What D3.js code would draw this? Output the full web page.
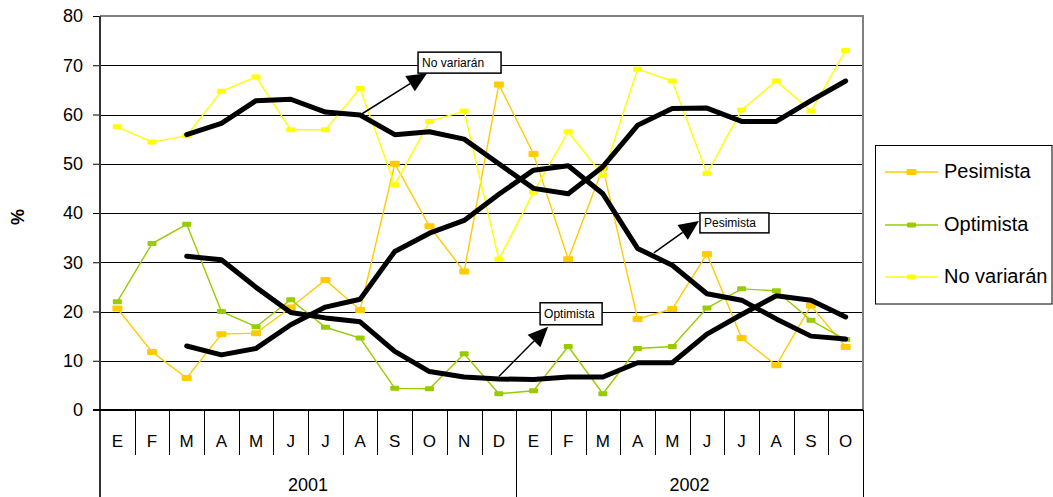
<!DOCTYPE html>
<html>
<head>
<meta charset="utf-8">
<script src="https://cdn.jsdelivr.net/npm/d3@7"></script>
<style>
  html, body { margin: 0; padding: 0; background: #fff; }
  svg { display: block; font-family: "Liberation Sans", Arial, sans-serif; }
</style>
</head>
<body>
<svg id="chart" width="1053" height="497"></svg>
<script>
// ---- data ----
const months = ["E","F","M","A","M","J","J","A","S","O","N","D","E","F","M","A","M","J","J","A","S","O"];
const yearLabels = ["2001", "2002"];
const yearCounts = [12, 10];
const yTicks = [0, 10, 20, 30, 40, 50, 60, 70, 80];
const seriesNames = ["Pesimista", "Optimista", "No variarán"];

const pesimista  = [20.6, 11.8, 6.5, 15.4, 15.6, 20.8, 26.4, 20.3, 50.0, 37.3, 28.1, 66.1, 52.0, 30.6, 49.2, 18.5, 20.5, 31.7, 14.6, 9.1, 21.2, 12.8];
const optimista  = [22.0, 33.8, 37.7, 20.0, 16.9, 22.4, 16.8, 14.6, 4.4, 4.3, 11.4, 3.3, 3.9, 12.9, 3.3, 12.5, 12.9, 20.7, 24.6, 24.2, 18.2, 14.3];
const noVariaran = [57.5, 54.4, 55.7, 64.7, 67.6, 56.9, 56.9, 65.3, 45.7, 58.6, 60.7, 30.6, 44.2, 56.5, 47.6, 69.2, 66.8, 48.0, 60.9, 66.8, 60.7, 73.0];

const pesimistaTrend  = [null, null, 13.0, 11.2, 12.5, 17.3, 20.9, 22.5, 32.2, 35.9, 38.5, 43.8, 48.7, 49.6, 43.9, 32.8, 29.4, 23.6, 22.3, 18.5, 15.0, 14.4];
const optimistaTrend  = [null, null, 31.2, 30.5, 24.9, 19.8, 18.7, 17.9, 11.9, 7.8, 6.7, 6.3, 6.2, 6.7, 6.7, 9.6, 9.6, 15.4, 19.4, 23.2, 22.3, 18.9];
const noVariaranTrend = [null, null, 55.9, 58.2, 62.8, 63.1, 60.5, 59.9, 55.9, 56.5, 55.0, 50.0, 45.0, 43.9, 49.4, 57.8, 61.2, 61.3, 58.6, 58.6, 62.8, 66.8];

// callouts: text, arrow start (category index, value), arrow tip (category index, value)
const calloutTexts = ["No variarán", "Pesimista", "Optimista"];
const calloutFrom  = [[7, 59.9], [15.47, 31.9], [11, 6.8]];
const calloutTo    = [[8.93, 68.4], [16.77, 38.4], [12.42, 16.9]];

// ---- styles / layout ----
const colors = ["#FFCC00", "#99CC00", "#FFFF00"];
const markerSize = [[10, 6], [9, 5], [9, 5]];
const boxOffsets = [[-9, -21, 83, 21], [1, -8, 69, 20], [-8, -24, 62, 22]];
const L = 100, R = 863, T = 16, B = 410;

const svg = d3.select("#chart");
const n = months.length;
const xBand = d3.scaleLinear().domain([0, n]).range([L, R]);
const xc = i => xBand(i + 0.5);
const y = d3.scaleLinear().domain([0, 80]).range([B, T]);

// gridlines
svg.append("g").selectAll("line").data(yTicks.filter(t => t > 0 && t < 80)).join("line")
  .attr("x1", L).attr("x2", R)
  .attr("y1", d => Math.round(y(d)) + 0.5).attr("y2", d => Math.round(y(d)) + 0.5)
  .attr("stroke", "#000").attr("stroke-width", 1);

// plot border top/right (gray)
svg.append("path")
  .attr("d", `M${L},${Math.round(y(80))}H${R}V${B}`)
  .attr("fill", "none").attr("stroke", "#808080").attr("stroke-width", 2);

// y axis
const yAxis = d3.axisLeft(y).tickValues(yTicks).tickSize(7).tickPadding(10);
const gy = svg.append("g").attr("transform", `translate(${L},0)`).call(yAxis);
gy.select(".domain").remove();
gy.selectAll(".tick line").attr("stroke", "#000").attr("stroke-width", 1);
gy.selectAll(".tick text").attr("font-size", 18).attr("fill", "#000")
  .attr("font-family", "Liberation Sans, Arial, sans-serif");
svg.append("line").attr("x1", L).attr("x2", L).attr("y1", T).attr("y2", 497)
  .attr("stroke", "#333").attr("stroke-width", 2);

// x axis baseline
svg.append("line").attr("x1", L - 7).attr("x2", R).attr("y1", B).attr("y2", B)
  .attr("stroke", "#000").attr("stroke-width", 2);

// category separators
const yearBounds = [0];
yearCounts.forEach(c => yearBounds.push(yearBounds[yearBounds.length - 1] + c));
svg.append("g").selectAll("line").data(d3.range(1, n + 1)).join("line")
  .attr("x1", d => Math.round(xBand(d)) + 0.5).attr("x2", d => Math.round(xBand(d)) + 0.5)
  .attr("y1", B).attr("y2", d => yearBounds.includes(d) ? 497 : 455)
  .attr("stroke", "#000").attr("stroke-width", 1);

// month labels
svg.append("g").selectAll("text").data(months).join("text")
  .attr("x", (d, i) => xc(i)).attr("y", 443)
  .attr("text-anchor", "middle").attr("dominant-baseline", "middle")
  .attr("font-size", 17).attr("fill", "#000").text(d => d);

// year labels
svg.append("g").selectAll("text").data(yearLabels).join("text")
  .attr("x", (d, i) => (xBand(yearBounds[i]) + xBand(yearBounds[i + 1])) / 2)
  .attr("y", 491)
  .attr("text-anchor", "middle")
  .attr("font-size", 18).attr("fill", "#000").text(d => d);

// y axis title
svg.append("text").attr("transform", "translate(24,217) rotate(-90)")
  .attr("text-anchor", "middle").attr("font-size", 18).attr("font-weight", "bold")
  .text("%");

// series
const seriesData = [pesimista, optimista, noVariaran];
const trendData = [pesimistaTrend, optimistaTrend, noVariaranTrend];
const line = d3.line().defined(d => d != null).x((d, i) => xc(i)).y(d => y(d));

seriesData.forEach((vals, s) => {
  const g = svg.append("g");
  g.append("path").datum(vals).attr("d", line)
    .attr("fill", "none").attr("stroke", colors[s]).attr("stroke-width", 1.4);
  g.selectAll("rect").data(vals).join("rect")
    .attr("x", (d, i) => xc(i) - markerSize[s][0] / 2)
    .attr("y", d => y(d) - markerSize[s][1] / 2)
    .attr("width", markerSize[s][0]).attr("height", markerSize[s][1])
    .attr("rx", 1).attr("fill", colors[s]);
});

trendData.forEach(vals => {
  svg.append("path").datum(vals).attr("d", line)
    .attr("fill", "none").attr("stroke", "#000").attr("stroke-width", 5)
    .attr("stroke-linejoin", "round").attr("stroke-linecap", "round");
});

// callouts
calloutTexts.forEach((txt, k) => {
  const x0 = xc(calloutFrom[k][0]), y0 = y(calloutFrom[k][1]);
  const x1 = xc(calloutTo[k][0]), y1 = y(calloutTo[k][1]);
  const dx = x1 - x0, dy = y1 - y0, len = Math.hypot(dx, dy);
  const ux = dx / len, uy = dy / len, px = -uy, py = ux;
  const AL = 20, AW = 18;
  const bx = x1 - ux * AL, by = y1 - uy * AL;
  const g = svg.append("g");
  g.append("line").attr("x1", x0).attr("y1", y0).attr("x2", bx).attr("y2", by)
    .attr("stroke", "#000").attr("stroke-width", 1.5);
  g.append("path")
    .attr("d", `M${x1},${y1}L${bx + px * AW / 2},${by + py * AW / 2}L${bx - px * AW / 2},${by - py * AW / 2}Z`)
    .attr("fill", "#000");
  const [ox, oy, bw, bh] = boxOffsets[k];
  g.append("rect").attr("x", x1 + ox).attr("y", y1 + oy).attr("width", bw).attr("height", bh)
    .attr("fill", "#fff").attr("stroke", "#000").attr("stroke-width", 1.5);
  g.append("text").attr("x", x1 + ox + 4).attr("y", y1 + oy + bh / 2 + 1)
    .attr("dominant-baseline", "middle").attr("font-size", 12).text(txt);
});

// legend
const lg = svg.append("g");
lg.append("rect").attr("x", 875.5).attr("y", 145.5).attr("width", 176.5).attr("height", 158.5)
  .attr("fill", "#fff").attr("stroke", "#000").attr("stroke-width", 1);
const legendY = [172, 225, 277];
seriesNames.forEach((name, s) => {
  const ly = legendY[s];
  lg.append("line").attr("x1", 885).attr("x2", 938).attr("y1", ly).attr("y2", ly)
    .attr("stroke", colors[s]).attr("stroke-width", 1.4);
  lg.append("rect").attr("x", 911.5 - markerSize[s][0] / 2).attr("y", ly - markerSize[s][1] / 2)
    .attr("width", markerSize[s][0]).attr("height", markerSize[s][1]).attr("rx", 1)
    .attr("fill", colors[s]);
  lg.append("text").attr("x", 944).attr("y", ly + 1).attr("dominant-baseline", "middle")
    .attr("font-size", 20).attr("fill", "#000").text(name);
});
</script>
</body>
</html>
